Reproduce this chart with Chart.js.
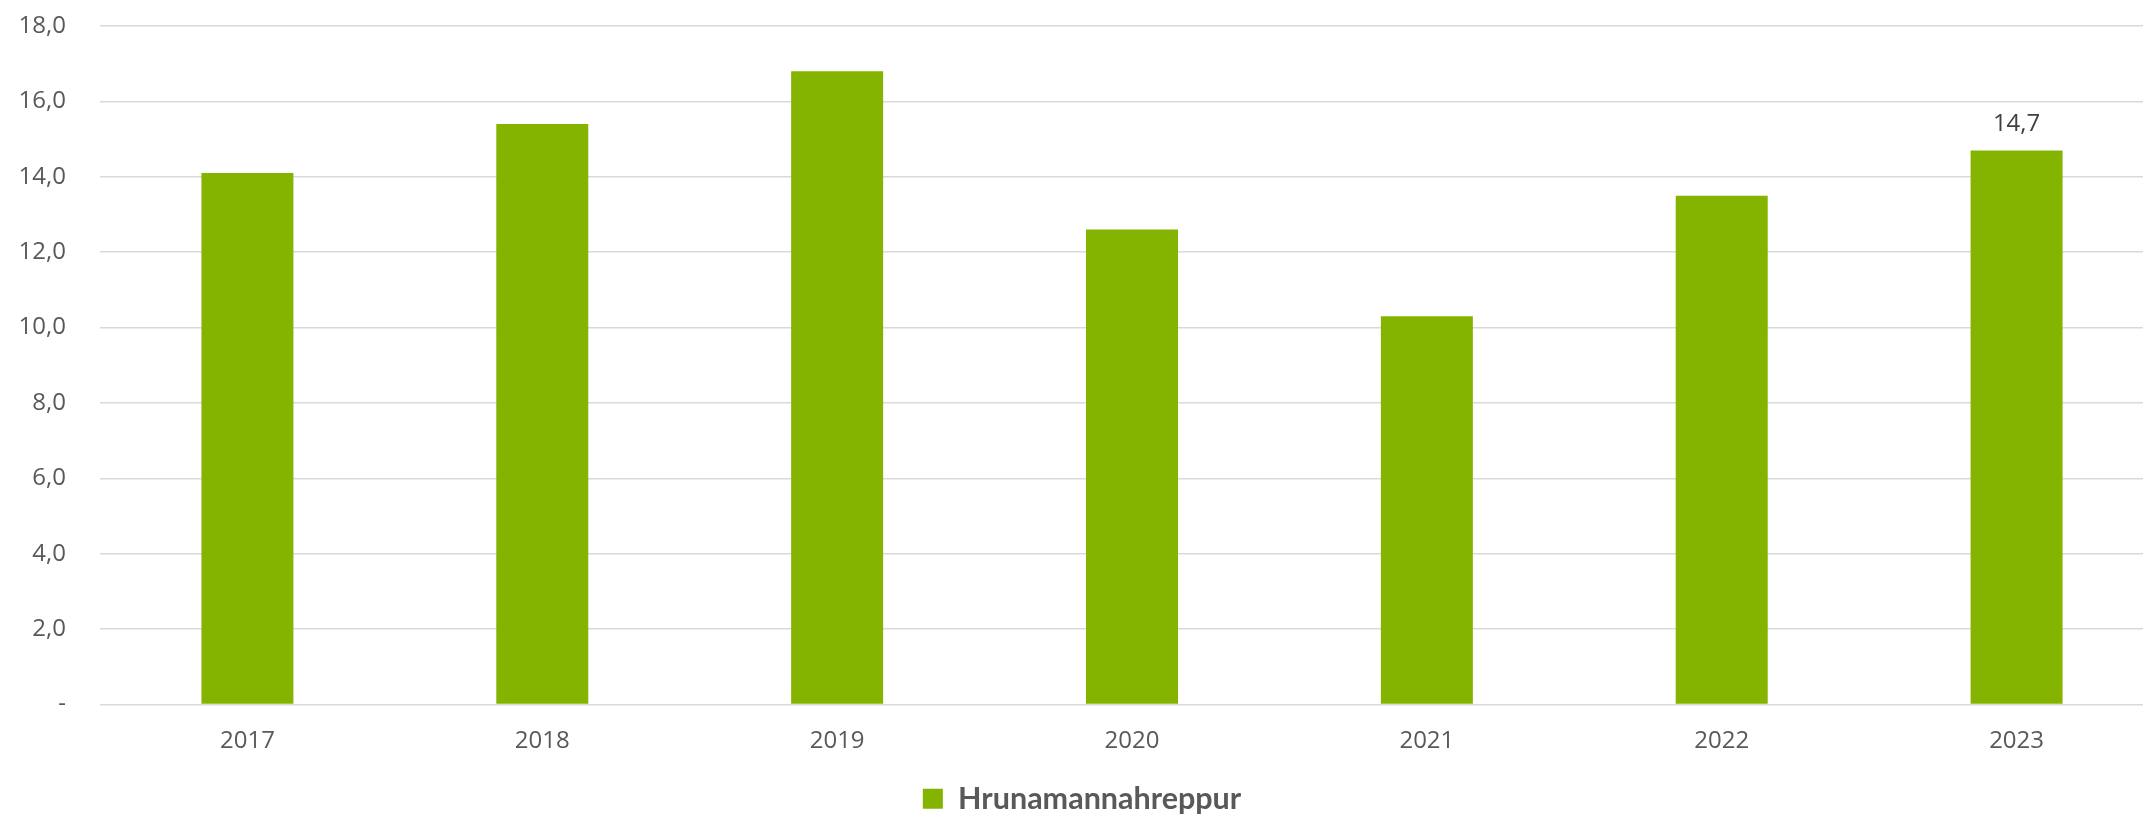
<!DOCTYPE html>
<html>
<head>
<meta charset="utf-8">
<script src="https://cdn.jsdelivr.net/npm/chart.js@4.4.1/dist/chart.umd.min.js"></script>
<style>
  html, body { margin: 0; padding: 0; background: #ffffff; overflow: hidden; }
  #wrap { position: relative; width: 2164px; height: 816px; }
</style>
</head>
<body>
<div id="wrap"><canvas id="c"></canvas></div>
<script>
const categories = ["2017", "2018", "2019", "2020", "2021", "2022", "2023"];
const seriesName = "Hrunamannahreppur";
const values = [14.1, 15.4, 16.8, 12.6, 10.3, 13.5, 14.7];
const labelledIndexes = [6];
const yTicks = [0, 2, 4, 6, 8, 10, 12, 14, 16, 18];

const fmt = v => v === 0 ? "-" : v.toFixed(1).replace(".", ",");

const dataLabelPlugin = {
  id: "dataLabels",
  afterDatasetsDraw(chart) {
    const ctx = chart.ctx;
    const meta = chart.getDatasetMeta(0);
    ctx.save();
    ctx.font = "24px 'Open Sans', sans-serif";
    ctx.fillStyle = "#404040";
    ctx.textAlign = "center";
    ctx.textBaseline = "bottom";
    labelledIndexes.forEach(i => {
      const el = meta.data[i];
      ctx.fillText(fmt(values[i]), el.x, el.y - 14);
    });
    ctx.restore();
  }
};

new Chart(document.getElementById("c"), {
  type: "bar",
  data: {
    labels: categories,
    datasets: [{
      label: seriesName,
      data: values,
      backgroundColor: "#84B400",
      borderWidth: 0,
      categoryPercentage: 1,
      barPercentage: 0.312
    }]
  },
  options: {
    responsive: true,
    maintainAspectRatio: false,
    animation: false,
    layout: { padding: { top: 26, right: 0, bottom: -8, left: 0 } },
    scales: {
      x: {
        grid: { display: false, drawTicks: false },
        border: { display: false },
        ticks: { color: "#595959", font: { family: "'Open Sans', sans-serif", size: 24 }, padding: 22 },
        afterFit(scale) { scale.height = 79; }
      },
      y: {
        min: 0, max: 18,
        afterBuildTicks(scale) { scale.ticks = yTicks.map(v => ({ value: v })); },
        grid: { color: "#d9d9d9", lineWidth: 1.5, drawTicks: false },
        border: { display: false },
        ticks: {
          color: "#595959",
          font: { family: "'Open Sans', sans-serif", size: 24 },
          padding: 34,
          callback: v => fmt(v)
        },
        afterFit(scale) { scale.width = 100; scale.paddingTop = 0; }
      }
    },
    plugins: {
      legend: {
        position: "bottom",
        labels: {
          color: "#595959",
          font: { family: "Lato, sans-serif", size: 30.5, weight: "bold" },
          boxWidth: 20, boxHeight: 20, padding: 0
        }
      },
      tooltip: { enabled: false }
    }
  },
  plugins: [dataLabelPlugin]
});
</script>
</body>
</html>
